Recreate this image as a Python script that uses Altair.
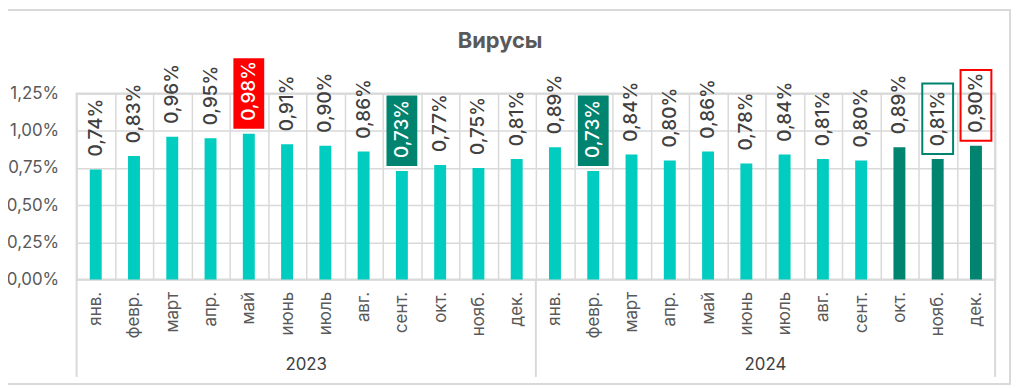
import altair as alt
import pandas as pd

# ---- data ----
years = ["2023"] * 12 + ["2024"] * 12
months = ["янв.", "февр.", "март", "апр.", "май", "июнь", "июль", "авг.",
          "сент.", "окт.", "нояб.", "дек."] * 2
values = [0.74, 0.83, 0.96, 0.95, 0.98, 0.91, 0.90, 0.86, 0.73, 0.77, 0.75, 0.81,
          0.89, 0.73, 0.84, 0.80, 0.86, 0.78, 0.84, 0.81, 0.80, 0.89, 0.81, 0.90]
bar_group = ["base"] * 21 + ["recent"] * 3
highlight = ["", "", "", "", "fill_red", "", "", "", "fill_green", "", "", "",
             "", "fill_green", "", "", "", "", "", "", "", "", "outline_green", "outline_red"]
year_labels = ["2023", "2024"]
y_ticks = [0, 0.25, 0.5, 0.75, 1.0, 1.25]

TURQ = "#00CCC0"
DARK = "#00836F"
RED = "#FF0000"
GRID = "#D9D9D9"
FONT = "Inter"

keys = [m + "|" + y for m, y in zip(months, years)]
bar_color = {"base": TURQ, "recent": DARK}
box_fill = {"fill_red": RED, "fill_green": DARK, "outline_green": "transparent",
            "outline_red": "transparent", "": "transparent"}
box_stroke = {"fill_red": "transparent", "fill_green": "transparent",
              "outline_green": DARK, "outline_red": RED, "": "transparent"}
text_color = {"fill_red": "#FFFFFF", "fill_green": "#FFFFFF"}

df = pd.DataFrame({
    "key": keys,
    "month": months,
    "year": years,
    "value": values,
    "color": [bar_color[g] for g in bar_group],
    "hl": highlight,
    "bfill": [box_fill[h] for h in highlight],
    "bstroke": [box_stroke[h] for h in highlight],
    "tcolor": [text_color.get(h, "#404040") for h in highlight],
})

W, H = 924, 187

x_axis = alt.Axis(
    title=None,
    labelExpr="datum.value ? split(datum.value, '|')[0] : ''",
    labelAngle=270, labelAlign="right", labelBaseline="middle",
    labelPadding=12, labelFontSize=17, labelColor="#595959", labelFont=FONT,
    ticks=False, domain=False, grid=True, gridColor=GRID, gridWidth=1.5,
    tickBand="extent",
)
x_scale = alt.Scale(paddingInner=0, paddingOuter=0)
y_axis = alt.Axis(
    title=None, values=y_ticks,
    labelExpr="replace(format(datum.value, '.2f'), '.', ',') + '%'",
    labelFontSize=17, labelColor="#595959", labelFont=FONT, labelPadding=18,
    labelOverlap=False,
    ticks=False, domain=False, grid=True, gridColor=GRID, gridWidth=1.5,
)
y_scale = alt.Scale(domain=[0, 1.25], nice=False)


def X(**kw):
    return alt.X("key:N", sort=keys, scale=x_scale, axis=x_axis, **kw)


def Y():
    return alt.Y("value:Q", scale=y_scale, axis=y_axis)


base = alt.Chart(df)

bars = base.mark_bar(width=12).encode(
    x=X(), y=Y(), color=alt.Color("color:N", scale=None)
)

boxes = base.transform_filter("datum.hl != ''").mark_bar(
    width=31, yOffset=-5, y2Offset=-76, strokeWidth=2
).encode(
    x=X(), y=Y(), y2=alt.Y2("value"),
    fill=alt.Fill("bfill:N", scale=None),
    stroke=alt.Stroke("bstroke:N", scale=None),
)

labels = base.transform_calculate(
    label="replace(format(datum.value, '.2f'), '.', ',') + '%'"
).mark_text(
    angle=270, align="left", baseline="middle", yOffset=-13,
    fontSize=19, font=FONT, fontWeight=500
).encode(
    x=X(), y=Y(),
    text="label:N",
    color=alt.Color("tcolor:N", scale=None),
)

year_df = pd.DataFrame({"key": ["июль|2023", "июль|2024"], "year": year_labels})
year_text = alt.Chart(year_df).mark_text(
    fontSize=17, font=FONT, color="#404040", baseline="middle"
).encode(
    x=X(bandPosition=0),
    y=alt.value(273),
    text="year:N",
)

sep_start = alt.Chart(pd.DataFrame({"key": ["янв.|2023", "янв.|2024"]})).mark_rule(
    color=GRID, strokeWidth=2
).encode(
    x=X(bandPosition=0),
    y=alt.value(H), y2=alt.value(285),
)
sep_end = alt.Chart(pd.DataFrame({"key": ["дек.|2024"]})).mark_rule(
    color=GRID, strokeWidth=2
).encode(
    x=X(bandPosition=1),
    y=alt.value(H), y2=alt.value(285),
)

# outer frame: left side falls outside the drawing (page margin), as in the reference
frame = alt.Chart(pd.DataFrame({"k": [0]})).mark_rect(
    fill="transparent", stroke=GRID, strokeWidth=2
).encode(
    x=alt.value(-80), x2=alt.value(939), y=alt.value(-84), y2=alt.value(292)
)

title = alt.Chart(pd.DataFrame({"t": ["Вирусы"]})).mark_text(
    fontSize=22, fontWeight="bold", font=FONT, color="#595959",
    align="center", baseline="alphabetic"
).encode(x=alt.value(426), y=alt.value(-46), text="t:N")

chart = alt.layer(
    frame, bars, boxes, labels, year_text, sep_start, sep_end, title
).properties(
    width=W, height=H,
    autosize=alt.AutoSizeParams(type="none"),
    padding={"left": 69, "top": 85, "right": 16, "bottom": 106},
).configure_view(stroke=GRID, strokeWidth=2)

chart.save("out.html", embed_options={"renderer": "svg", "actions": False})
